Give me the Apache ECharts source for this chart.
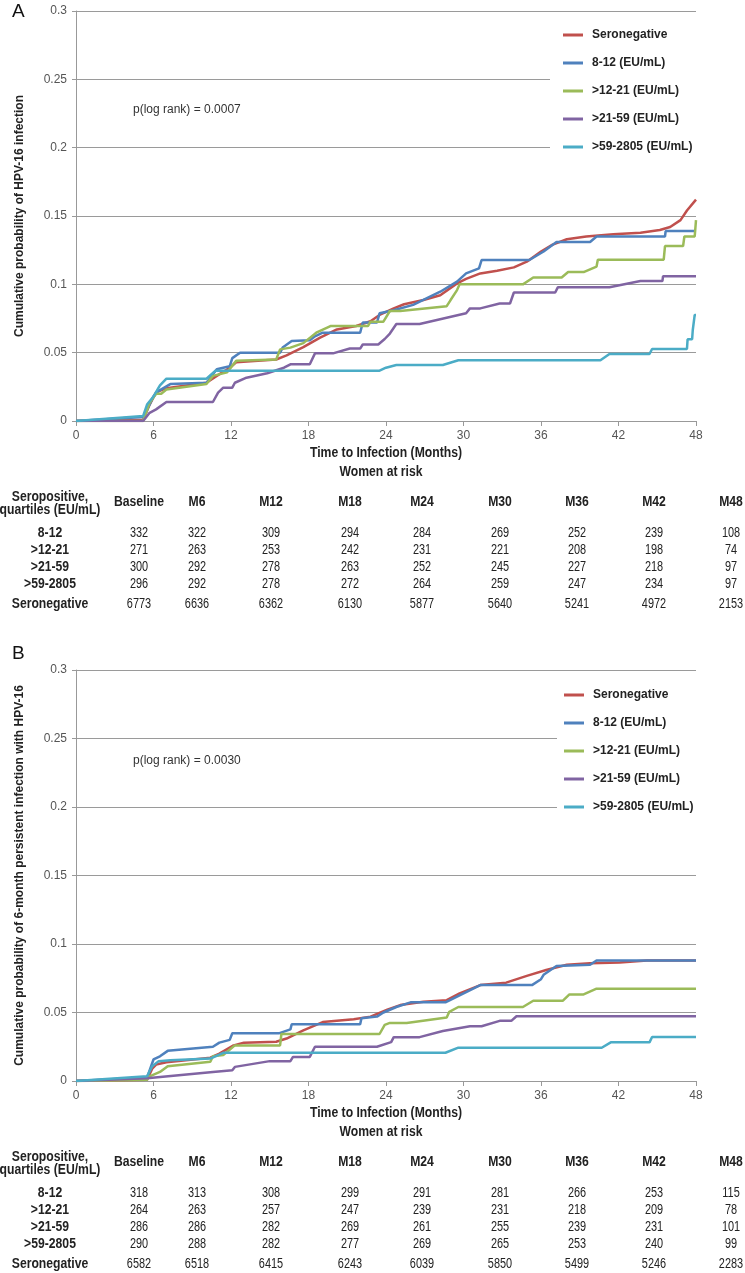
<!DOCTYPE html>
<html>
<head>
<meta charset="utf-8">
<script src="https://cdn.jsdelivr.net/npm/echarts@6/dist/echarts.min.js"></script>
<style>
html,body{margin:0;padding:0;background:#fff;}
#chart{width:745px;height:1273px;}
</style>
</head>
<body>
<div id="chart"></div>
<script>
// ---------- DATA ----------
var seriesNames = ['Seronegative', '8-12 (EU/mL)', '>12-21 (EU/mL)', '>21-59 (EU/mL)', '>59-2805 (EU/mL)'];
var seriesColors = ['#C0504D', '#4F81BD', '#9BBB59', '#8064A2', '#4BACC6'];
var xTicks = [0, 6, 12, 18, 24, 30, 36, 42, 48];
var yTicks = [0, 0.05, 0.1, 0.15, 0.2, 0.25, 0.3];

// Panel A: cumulative probability of HPV-16 infection  [month, probability]
var aSeronegative = [[0,0],[5.2,0.001],[5.7,0.012],[6.2,0.021],[7.0,0.024],[10.1,0.028],[10.9,0.033],[11.9,0.039],[12.4,0.043],[15.5,0.045],[16.3,0.048],[17.6,0.054],[18.9,0.061],[20.2,0.067],[21.7,0.0695],[22.8,0.073],[23.5,0.0776],[24.6,0.0824],[25.4,0.0854],[26.9,0.0885],[28.2,0.092],[29.5,0.1007],[30.2,0.104],[31.3,0.108],[32.6,0.110],[33.9,0.1124],[34.9,0.1166],[36.0,0.124],[36.9,0.129],[38.0,0.133],[39.5,0.135],[41.6,0.1366],[43.7,0.1378],[45.2,0.1398],[46.0,0.142],[46.8,0.147],[47.3,0.154],[48,0.162]];
var a8to12 = [[0,0],[5.2,0.003],[5.5,0.008],[6.0,0.018],[6.4,0.022],[7.3,0.027],[10.1,0.028],[10.9,0.0378],[11.9,0.040],[12.1,0.046],[12.7,0.050],[15.8,0.050],[16.0,0.0537],[16.7,0.0585],[18.1,0.059],[18.5,0.062],[19.1,0.0646],[22.0,0.0646],[22.2,0.072],[23.3,0.072],[23.5,0.0788],[24.6,0.081],[26.1,0.085],[28.2,0.0946],[29.5,0.102],[30.2,0.108],[31.2,0.1117],[31.4,0.1178],[35.1,0.1178],[36.2,0.124],[37.2,0.131],[39.8,0.131],[40.3,0.135],[45.6,0.135],[45.65,0.139],[48,0.139]];
var a12to21 = [[0,0],[5.2,0],[5.7,0.0134],[6.2,0.020],[6.6,0.020],[7.0,0.023],[10.1,0.027],[10.6,0.033],[11.7,0.0356],[12.4,0.044],[15.5,0.045],[15.8,0.0524],[16.6,0.0537],[17.6,0.057],[18.6,0.0646],[19.7,0.0695],[22.6,0.0695],[22.8,0.0727],[23.8,0.0727],[24.3,0.0805],[25.1,0.0805],[28.7,0.084],[29.0,0.0885],[29.5,0.0958],[29.7,0.100],[34.6,0.100],[35.4,0.105],[37.6,0.105],[38.1,0.109],[39.3,0.109],[40.3,0.113],[40.4,0.118],[45.5,0.118],[45.6,0.128],[47.0,0.128],[47.1,0.135],[47.9,0.135],[48,0.147]];
var a21to59 = [[0,0],[5.2,0],[5.7,0.006],[6.2,0.0085],[7.0,0.0139],[10.6,0.0139],[11.0,0.0207],[11.4,0.0244],[12.1,0.0244],[12.3,0.028],[13.2,0.0317],[14.8,0.0349],[16.1,0.039],[16.6,0.0415],[18.1,0.0415],[18.5,0.0495],[19.9,0.0495],[21.2,0.053],[22.0,0.053],[22.2,0.056],[23.4,0.056],[23.9,0.060],[24.3,0.064],[24.8,0.071],[26.6,0.071],[30.2,0.0788],[30.5,0.0824],[31.3,0.0824],[32.8,0.086],[33.6,0.086],[33.9,0.094],[37.1,0.094],[37.3,0.0978],[41.3,0.0978],[43.7,0.1024],[45.4,0.1024],[45.45,0.106],[48,0.106]];
var a59to2805 = [[0,0],[5.2,0.0037],[5.5,0.012],[6.0,0.018],[6.5,0.026],[7.0,0.031],[10.1,0.031],[10.8,0.0368],[23.5,0.0368],[24.0,0.039],[24.8,0.041],[28.4,0.041],[29.6,0.0444],[40.6,0.0444],[41.3,0.049],[44.4,0.049],[44.6,0.0527],[47.3,0.0527],[47.35,0.0598],[47.7,0.0598],[47.75,0.0666],[47.85,0.0666],[47.9,0.0776],[48,0.0776]];

// Panel B: cumulative probability of 6-month persistent infection with HPV-16
var bSeronegative = [[0,0],[5.5,0.001],[5.9,0.009],[6.2,0.012],[7.0,0.0137],[10.4,0.017],[11.1,0.020],[12.2,0.026],[13.0,0.028],[15.5,0.0287],[16.3,0.031],[17.6,0.037],[19.1,0.043],[21.5,0.045],[22.8,0.047],[24.1,0.052],[25.1,0.0554],[26.9,0.0578],[28.7,0.059],[29.7,0.064],[31.3,0.070],[33.3,0.0718],[34.9,0.0767],[36.4,0.081],[38.0,0.0848],[39.8,0.086],[42.1,0.0865],[44.2,0.088],[48,0.088]];
var b8to12 = [[0,0],[5.5,0.0025],[6.0,0.0157],[6.5,0.018],[7.1,0.022],[10.6,0.025],[11.1,0.028],[11.9,0.030],[12.1,0.0348],[15.7,0.0348],[16.6,0.0377],[16.7,0.0414],[22.0,0.0414],[22.1,0.0458],[23.3,0.047],[23.8,0.050],[24.8,0.054],[25.9,0.0574],[28.6,0.0574],[31.3,0.070],[35.3,0.070],[36.0,0.0743],[36.2,0.0775],[37.2,0.084],[39.8,0.0848],[40.3,0.088],[48,0.088]];
var b12to21 = [[0,0],[5.5,0.001],[5.7,0.0034],[6.5,0.0066],[7.1,0.0108],[10.4,0.014],[10.6,0.018],[11.4,0.019],[12.3,0.026],[15.8,0.026],[15.9,0.0343],[23.5,0.0343],[23.9,0.041],[24.3,0.0424],[25.6,0.0424],[28.7,0.0463],[28.9,0.0505],[29.6,0.054],[34.6,0.054],[35.4,0.0586],[37.7,0.0586],[38.2,0.0632],[39.3,0.0632],[40.3,0.0674],[48,0.0674]];
var b21to59 = [[0,0],[5.5,0.002],[10.6,0.0066],[12.1,0.0078],[12.3,0.0103],[15.0,0.0145],[16.6,0.0145],[16.8,0.0176],[18.1,0.0176],[18.5,0.025],[23.3,0.025],[24.4,0.0284],[24.6,0.032],[26.6,0.032],[28.4,0.0365],[30.5,0.040],[31.4,0.040],[32.8,0.0439],[33.7,0.0439],[34.1,0.0473],[48,0.0473]];
var b59to2805 = [[0,0],[5.5,0.0034],[5.9,0.0108],[6.4,0.0145],[7.3,0.0152],[10.4,0.0164],[11.4,0.0206],[28.6,0.0206],[29.6,0.0243],[40.7,0.0243],[41.4,0.0282],[44.4,0.0282],[44.6,0.0321],[48,0.0321]];

// Women at risk tables
var tableColumns = ['Baseline', 'M6', 'M12', 'M18', 'M24', 'M30', 'M36', 'M42', 'M48'];
var tableRows = ['8-12', '>12-21', '>21-59', '>59-2805', 'Seronegative'];
var atRiskA = [
  [332, 322, 309, 294, 284, 269, 252, 239, 108],
  [271, 263, 253, 242, 231, 221, 208, 198, 74],
  [300, 292, 278, 263, 252, 245, 227, 218, 97],
  [296, 292, 278, 272, 264, 259, 247, 234, 97],
  [6773, 6636, 6362, 6130, 5877, 5640, 5241, 4972, 2153]
];
var atRiskB = [
  [318, 313, 308, 299, 291, 281, 266, 253, 115],
  [264, 263, 257, 247, 239, 231, 218, 209, 78],
  [286, 286, 282, 269, 261, 255, 239, 231, 101],
  [290, 288, 282, 277, 269, 265, 253, 240, 99],
  [6582, 6518, 6415, 6243, 6039, 5850, 5499, 5246, 2283]
];
var pValueA = 'p(log rank) = 0.0007';
var pValueB = 'p(log rank) = 0.0030';
var yTitleA = 'Cumulative probability of HPV-16 infection';
var yTitleB = 'Cumulative probability of 6-month persistent infection with HPV-16';
var xTitle = 'Time to Infection (Months)';

// ---------- LAYOUT ----------
var SANS = 'Liberation Sans, Arial, sans-serif';
var colX = [139, 197, 271, 350, 422, 500, 577, 654, 731];
var labelX = 50;
var rowY = [80, 97, 114, 131, 151];

function panelAxes(gridIndex, yTitle) {
  var x = {
    type: 'value', gridIndex: gridIndex, min: 0, max: 48, interval: 6,
    axisLine: {show: true, lineStyle: {color: '#999', width: 1}},
    axisTick: {show: true, length: 5, lineStyle: {color: '#999'}},
    axisLabel: {margin: 9, fontFamily: SANS, fontSize: 12, color: '#555', formatter: function (v) { return xTicks.indexOf(v) >= 0 ? String(v) : ''; }},
    splitLine: {show: false}
  };
  var y = {
    type: 'value', gridIndex: gridIndex, min: 0, max: 0.3, interval: 0.05,
    name: yTitle, nameLocation: 'middle', nameGap: 50, nameRotate: 90,
    nameTextStyle: {fontFamily: SANS, fontWeight: 'bold', fontSize: 12, color: '#222'},
    axisLine: {show: true, lineStyle: {color: '#999', width: 1}},
    axisTick: {show: true, length: 4, lineStyle: {color: '#999'}},
    axisLabel: {margin: 9, fontFamily: SANS, fontSize: 12, color: '#555', formatter: function (v) {
      for (var i = 0; i < yTicks.length; i++) { if (Math.abs(yTicks[i] - v) < 1e-9) return String(yTicks[i]); }
      return '';
    }},
    splitLine: {show: true, lineStyle: {color: '#9a9a9a', width: 1}}
  };
  return {x: x, y: y};
}

function makeSeries(gridIndex, datasets) {
  return datasets.map(function (d, i) {
    return {
      name: seriesNames[i], type: 'line', xAxisIndex: gridIndex, yAxisIndex: gridIndex,
      data: d, showSymbol: false, symbol: 'none', smooth: false,
      lineStyle: {color: seriesColors[i], width: 2.5},
      itemStyle: {color: seriesColors[i]},
      animation: false, z: 2 + i
    };
  });
}

var graphics = [];
function narrowText(x, y, text, bold) {
  graphics.push({type: 'text', x: x, y: y, scaleX: bold ? 0.87 : 0.78, silent: true,
    style: {text: text, fontFamily: SANS, fontWeight: bold ? 'bold' : 'normal', fontSize: 14,
      fill: '#222', align: 'center', verticalAlign: 'middle'}});
}
function addTable(top, data) {
  narrowText(386, top, xTitle, true);
  narrowText(381, top + 19, 'Women at risk', true);
  narrowText(labelX, top + 44, 'Seropositive,', true);
  narrowText(labelX, top + 57, 'quartiles (EU/mL)', true);
  tableColumns.forEach(function (c, j) { narrowText(colX[j], top + 49, c, true); });
  tableRows.forEach(function (r, i) {
    narrowText(labelX, top + rowY[i], r, true);
    data[i].forEach(function (v, j) { narrowText(colX[j], top + rowY[i], String(v), false); });
  });
}
addTable(453, atRiskA);
addTable(1113, atRiskB);

graphics.push({type: 'text', x: 12, y: 12, style: {text: 'A', fontFamily: SANS, fontSize: 19, fill: '#111', align: 'left', verticalAlign: 'middle'}});
graphics.push({type: 'text', x: 12, y: 654, style: {text: 'B', fontFamily: SANS, fontSize: 19, fill: '#111', align: 'left', verticalAlign: 'middle'}});
graphics.push({type: 'text', x: 133, y: 110, style: {text: pValueA, fontFamily: SANS, fontSize: 12, fill: '#333', align: 'left', verticalAlign: 'middle'}});
graphics.push({type: 'text', x: 133, y: 761, style: {text: pValueB, fontFamily: SANS, fontSize: 12, fill: '#333', align: 'left', verticalAlign: 'middle'}});

var axA = panelAxes(0, yTitleA);
var axB = panelAxes(1, yTitleB);

function legendFor(left, top, padLeft) {
  return {
    orient: 'vertical', left: left, top: top, data: seriesNames,
    icon: 'rect', itemWidth: 20, itemHeight: 3, itemGap: 14,
    padding: [10, 10, 10, padLeft], backgroundColor: '#fff',
    textStyle: {fontFamily: SANS, fontWeight: 'bold', fontSize: 12, color: '#222', lineHeight: 14, padding: [0, 0, 0, 4]},
    selectedMode: false
  };
}

var chart = echarts.init(document.getElementById('chart'), null, {renderer: 'canvas'});
chart.setOption({
  animation: false,
  backgroundColor: '#fff',
  grid: [
    {left: 76, top: 11, width: 620, height: 410},
    {left: 76, top: 670, width: 620, height: 411}
  ],
  xAxis: [axA.x, axB.x],
  yAxis: [axA.y, axB.y],
  legend: [legendFor(550, 18, 13), legendFor(557, 678, 7)],
  series: makeSeries(0, [aSeronegative, a8to12, a12to21, a21to59, a59to2805])
    .concat(makeSeries(1, [bSeronegative, b8to12, b12to21, b21to59, b59to2805])),
  graphic: graphics
});
</script>
</body>
</html>
